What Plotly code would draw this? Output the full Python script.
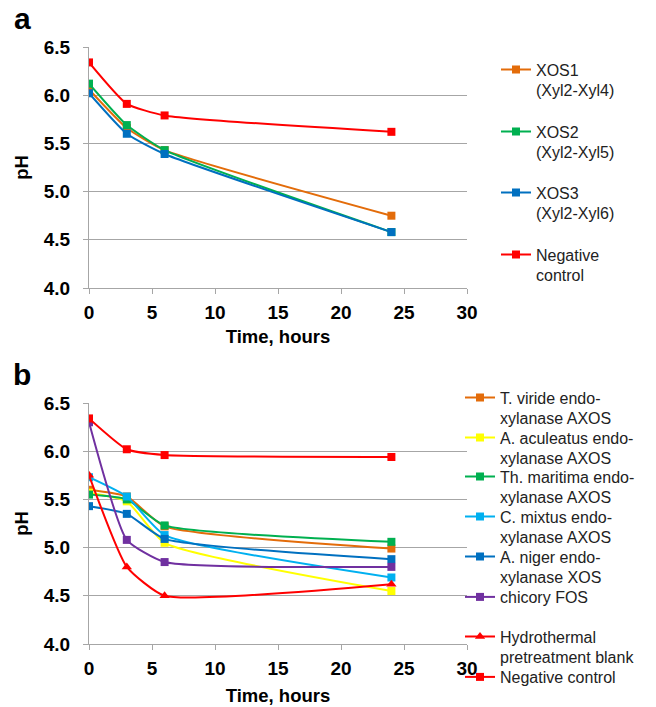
import plotly.graph_objects as go

time_h = [0, 3, 6, 24]

# Panel a
a_names = ["XOS1<br>(Xyl2-Xyl4)", "XOS2<br>(Xyl2-Xyl5)", "XOS3<br>(Xyl2-Xyl6)", "Negative<br>control"]
a_xos1 = [6.06, 5.66, 5.43, 4.75]
a_xos2 = [6.12, 5.69, 5.43, 4.58]
a_xos3 = [6.02, 5.60, 5.39, 4.58]
a_neg = [6.34, 5.91, 5.79, 5.62]

# Panel b
b_names = ["T. viride endo-<br>xylanase AXOS", "A. aculeatus endo-<br>xylanase AXOS",
           "Th. maritima endo-<br>xylanase AXOS", "C. mixtus endo-<br>xylanase AXOS",
           "A. niger endo-<br>xylanase XOS", "chicory FOS",
           "Hydrothermal<br>pretreatment blank", "Negative control"]
b_tviride = [5.60, 5.53, 5.22, 4.99]
b_aacul = [5.57, 5.48, 5.05, 4.55]
b_thmar = [5.55, 5.50, 5.23, 5.06]
b_cmix = [5.73, 5.53, 5.13, 4.69]
b_aniger = [5.43, 5.35, 5.09, 4.88]
b_chicory = [6.30, 5.08, 4.85, 4.80]
b_hydro = [5.75, 4.80, 4.50, 4.62]
b_neg = [6.34, 6.02, 5.96, 5.94]

ORANGE = "#E36C0A"
GREEN = "#00B050"
BLUE = "#0070C0"
RED = "#FF0000"
YELLOW = "#FFFF00"
LBLUE = "#00B0F0"
PURPLE = "#7030A0"

FONT = "Liberation Sans, Arial, sans-serif"
W, H = 656, 707
ML, MR, MT, MB = 89, 10, 2, 2
PW, PH = W - ML - MR, H - MT - MB


def px_x(xp):
    return (xp - ML) / PW


def px_y(yp):
    return (H - MB - yp) / PH


fig = go.Figure()
legends = {}

a_series = [(a_xos1, ORANGE), (a_xos2, GREEN), (a_xos3, BLUE), (a_neg, RED)]
a_centers = [80, 142, 203, 265]
for i, ((vals, col), name) in enumerate(zip(a_series, a_names)):
    lid = "legend%d" % (i + 2)
    fig.add_trace(go.Scatter(
        x=time_h, y=vals, name=name, mode="lines+markers",
        line=dict(color=col, width=2, shape="spline", smoothing=0.5),
        marker=dict(symbol="square", size=8, color=col),
        legend=lid, xaxis="x", yaxis="y", showlegend=True,
    ))
    legends[lid] = dict(x=px_x(538 - 42), y=px_y(a_centers[i]), xanchor="left", yanchor="middle",
                        font=dict(family=FONT, size=16, color="#222"), valign="top",
                        itemwidth=30, bgcolor="rgba(0,0,0,0)")

b_series = [(b_tviride, ORANGE, "square"), (b_aacul, YELLOW, "square"),
            (b_thmar, GREEN, "square"), (b_cmix, LBLUE, "square"),
            (b_aniger, BLUE, "square"), (b_chicory, PURPLE, "square"),
            (b_hydro, RED, "triangle-up"), (b_neg, RED, "square")]
b_centers = [408, 448, 487, 527, 567, 597, 647, 677]
for j, ((vals, col, sym), name) in enumerate(zip(b_series, b_names)):
    lid = "legend%d" % (j + 6)
    fig.add_trace(go.Scatter(
        x=time_h, y=vals, name=name, mode="lines+markers",
        line=dict(color=col, width=2, shape="spline", smoothing=0.5),
        marker=dict(symbol=sym, size=8 if sym == "square" else 9, color=col),
        legend=lid, xaxis="x2", yaxis="y2", showlegend=True,
    ))
    legends[lid] = dict(x=px_x(502 - 42), y=px_y(b_centers[j]), xanchor="left", yanchor="middle",
                        font=dict(family=FONT, size=16, color="#222"), valign="top",
                        itemwidth=30, bgcolor="rgba(0,0,0,0)")

axis_common = dict(
    showline=True, linecolor="#A6A6A6", linewidth=1,
    ticks="outside", ticklen=5, tickcolor="#A6A6A6",
    tickfont=dict(family=FONT, size=19, color="black", weight="bold"),
    zeroline=False, automargin=False,
)
xdom = [0, px_x(467)]
xcommon = dict(range=[0, 30], dtick=5, showgrid=False, domain=xdom, ticklabelstandoff=2, **axis_common)
ycommon = dict(range=[4, 6.5], dtick=0.5, tickformat=".1f", showgrid=True, gridcolor="#A6A6A6",
               ticklabelstandoff=9,
               title=dict(text="<b>pH</b>", font=dict(family=FONT, size=18.5, color="black"), standoff=10),
               **axis_common)

fig.update_layout(
    width=W, height=H,
    margin=dict(l=ML, r=MR, t=MT, b=MB, autoexpand=False),
    showlegend=True,
    plot_bgcolor="white", paper_bgcolor="white",
    font=dict(family=FONT, color="black"),
    xaxis=dict(anchor="y", title=dict(text="<b>Time, hours</b>", font=dict(family=FONT, size=18.5, color="black"), standoff=8), **xcommon),
    yaxis=dict(anchor="x", domain=[px_y(288), px_y(47)], **ycommon),
    xaxis2=dict(anchor="y2", title=dict(text="<b>Time, hours</b>", font=dict(family=FONT, size=18.5, color="black"), standoff=11), **xcommon),
    yaxis2=dict(anchor="x2", domain=[px_y(644), px_y(403)], **ycommon),
    annotations=[
        dict(text="<b>a</b>", x=px_x(22), y=px_y(18.5), xref="paper", yref="paper", showarrow=False,
             xanchor="center", yanchor="middle", font=dict(family=FONT, size=30, color="black")),
        dict(text="<b>b</b>", x=px_x(22), y=px_y(374.5), xref="paper", yref="paper", showarrow=False,
             xanchor="center", yanchor="middle", font=dict(family=FONT, size=30, color="black")),
    ],
    **legends,
)

fig.write_html("out.html", config={"displayModeBar": False},
               post_script="document.body.style.margin='0px';document.body.style.overflow='hidden';")
